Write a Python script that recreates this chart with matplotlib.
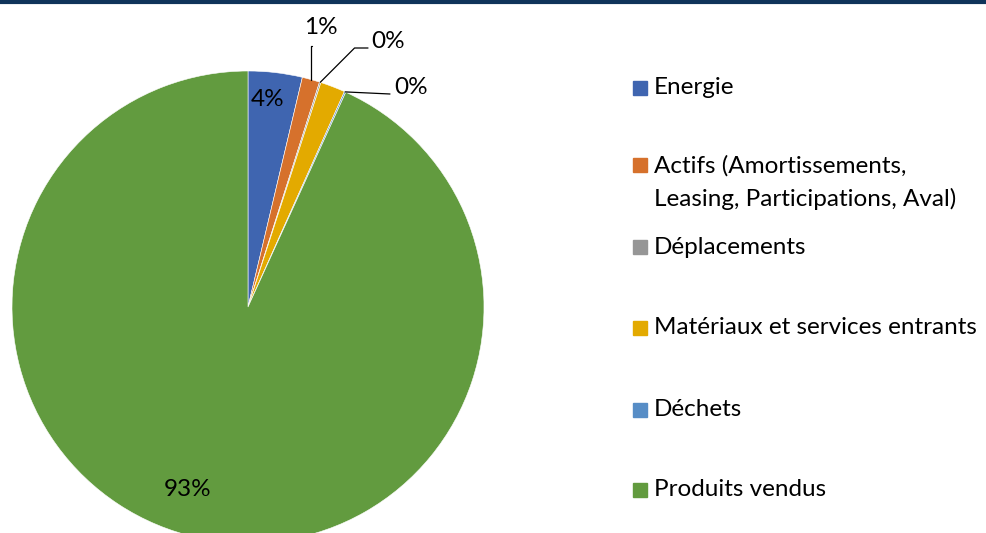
import numpy as np
import matplotlib
matplotlib.use("Agg")
import matplotlib.pyplot as plt
from matplotlib.patches import Rectangle

categories = ["Energie", "Actifs (Amortissements,\nLeasing, Participations, Aval)",
              "Déplacements", "Matériaux et services entrants", "Déchets", "Produits vendus"]
values = [3.7, 1.2, 0.1, 1.7, 0.1, 93.2]
colors = ["#3f65b0", "#d6712c", "#969696", "#e3aa00", "#578dc6", "#629b3f"]

plt.rcParams['font.family'] = ['Lato', 'DejaVu Sans']

W, H = 986, 533
fig = plt.figure(figsize=(W / 100, H / 100), dpi=100)
ax = fig.add_axes([0, 0, 1, 1])

# pixel-like coordinates (y up)
cx, cy, r = 248, H - 307, 236
wedges, _ = ax.pie(values, colors=colors, startangle=90, counterclock=False,
                   center=(cx, cy), radius=r,
                   wedgeprops=dict(edgecolor="white", linewidth=0.4))
ax.set_xlim(0, W)
ax.set_ylim(0, H)
ax.set_aspect("auto")
ax.axis("off")

pct = [f"{round(v):.0f}%" for v in values]
fs = 17.5

# inside labels
for i, pos in [(0, (268, 100)), (5, (188, 490))]:
    ax.text(pos[0], H - pos[1], pct[i], ha="center", va="center", fontsize=fs)

# outside labels with leader lines
def edge_point(i):
    w = wedges[i]
    ang = np.deg2rad((w.theta1 + w.theta2) / 2)
    return cx + r * np.cos(ang), cy + r * np.sin(ang)

outside = [(1, (321, 27), "angle,angleA=0,angleB=90,rad=0", (312, 46)),
           (2, (388, 42), "angle,angleA=0,angleB=45,rad=0", (368, 48)),
           (4, (411, 88), "arc3,rad=0", (390, 94))]
for i, tpos, cs, lend in outside:
    ex, ey = edge_point(i)
    ax.text(tpos[0], H - tpos[1], pct[i], ha="center", va="center", fontsize=fs)
    ax.annotate("", xy=(ex, ey), xytext=(lend[0], H - lend[1]),
                arrowprops=dict(arrowstyle="-", color="black", lw=0.9,
                                connectionstyle=cs, shrinkA=0, shrinkB=0))

# legend
leg_y = [88, 165, 247, 328, 410, 490]
for lab, col, y in zip(categories, colors, leg_y):
    ax.add_patch(Rectangle((633, H - y - 7), 14, 14, color=col, clip_on=False))
    if "\n" in lab:
        ax.text(654, H - y + 10, lab, ha="left", va="top", fontsize=fs, linespacing=1.65)
    else:
        ax.text(654, H - y, lab, ha="left", va="center", fontsize=fs)

# top border
fig.add_artist(plt.Line2D([0, 1], [1 - 2 / H, 1 - 2 / H], color="#0f345a", lw=3,
                          transform=fig.transFigure))

fig.savefig("out.png", dpi=100)
